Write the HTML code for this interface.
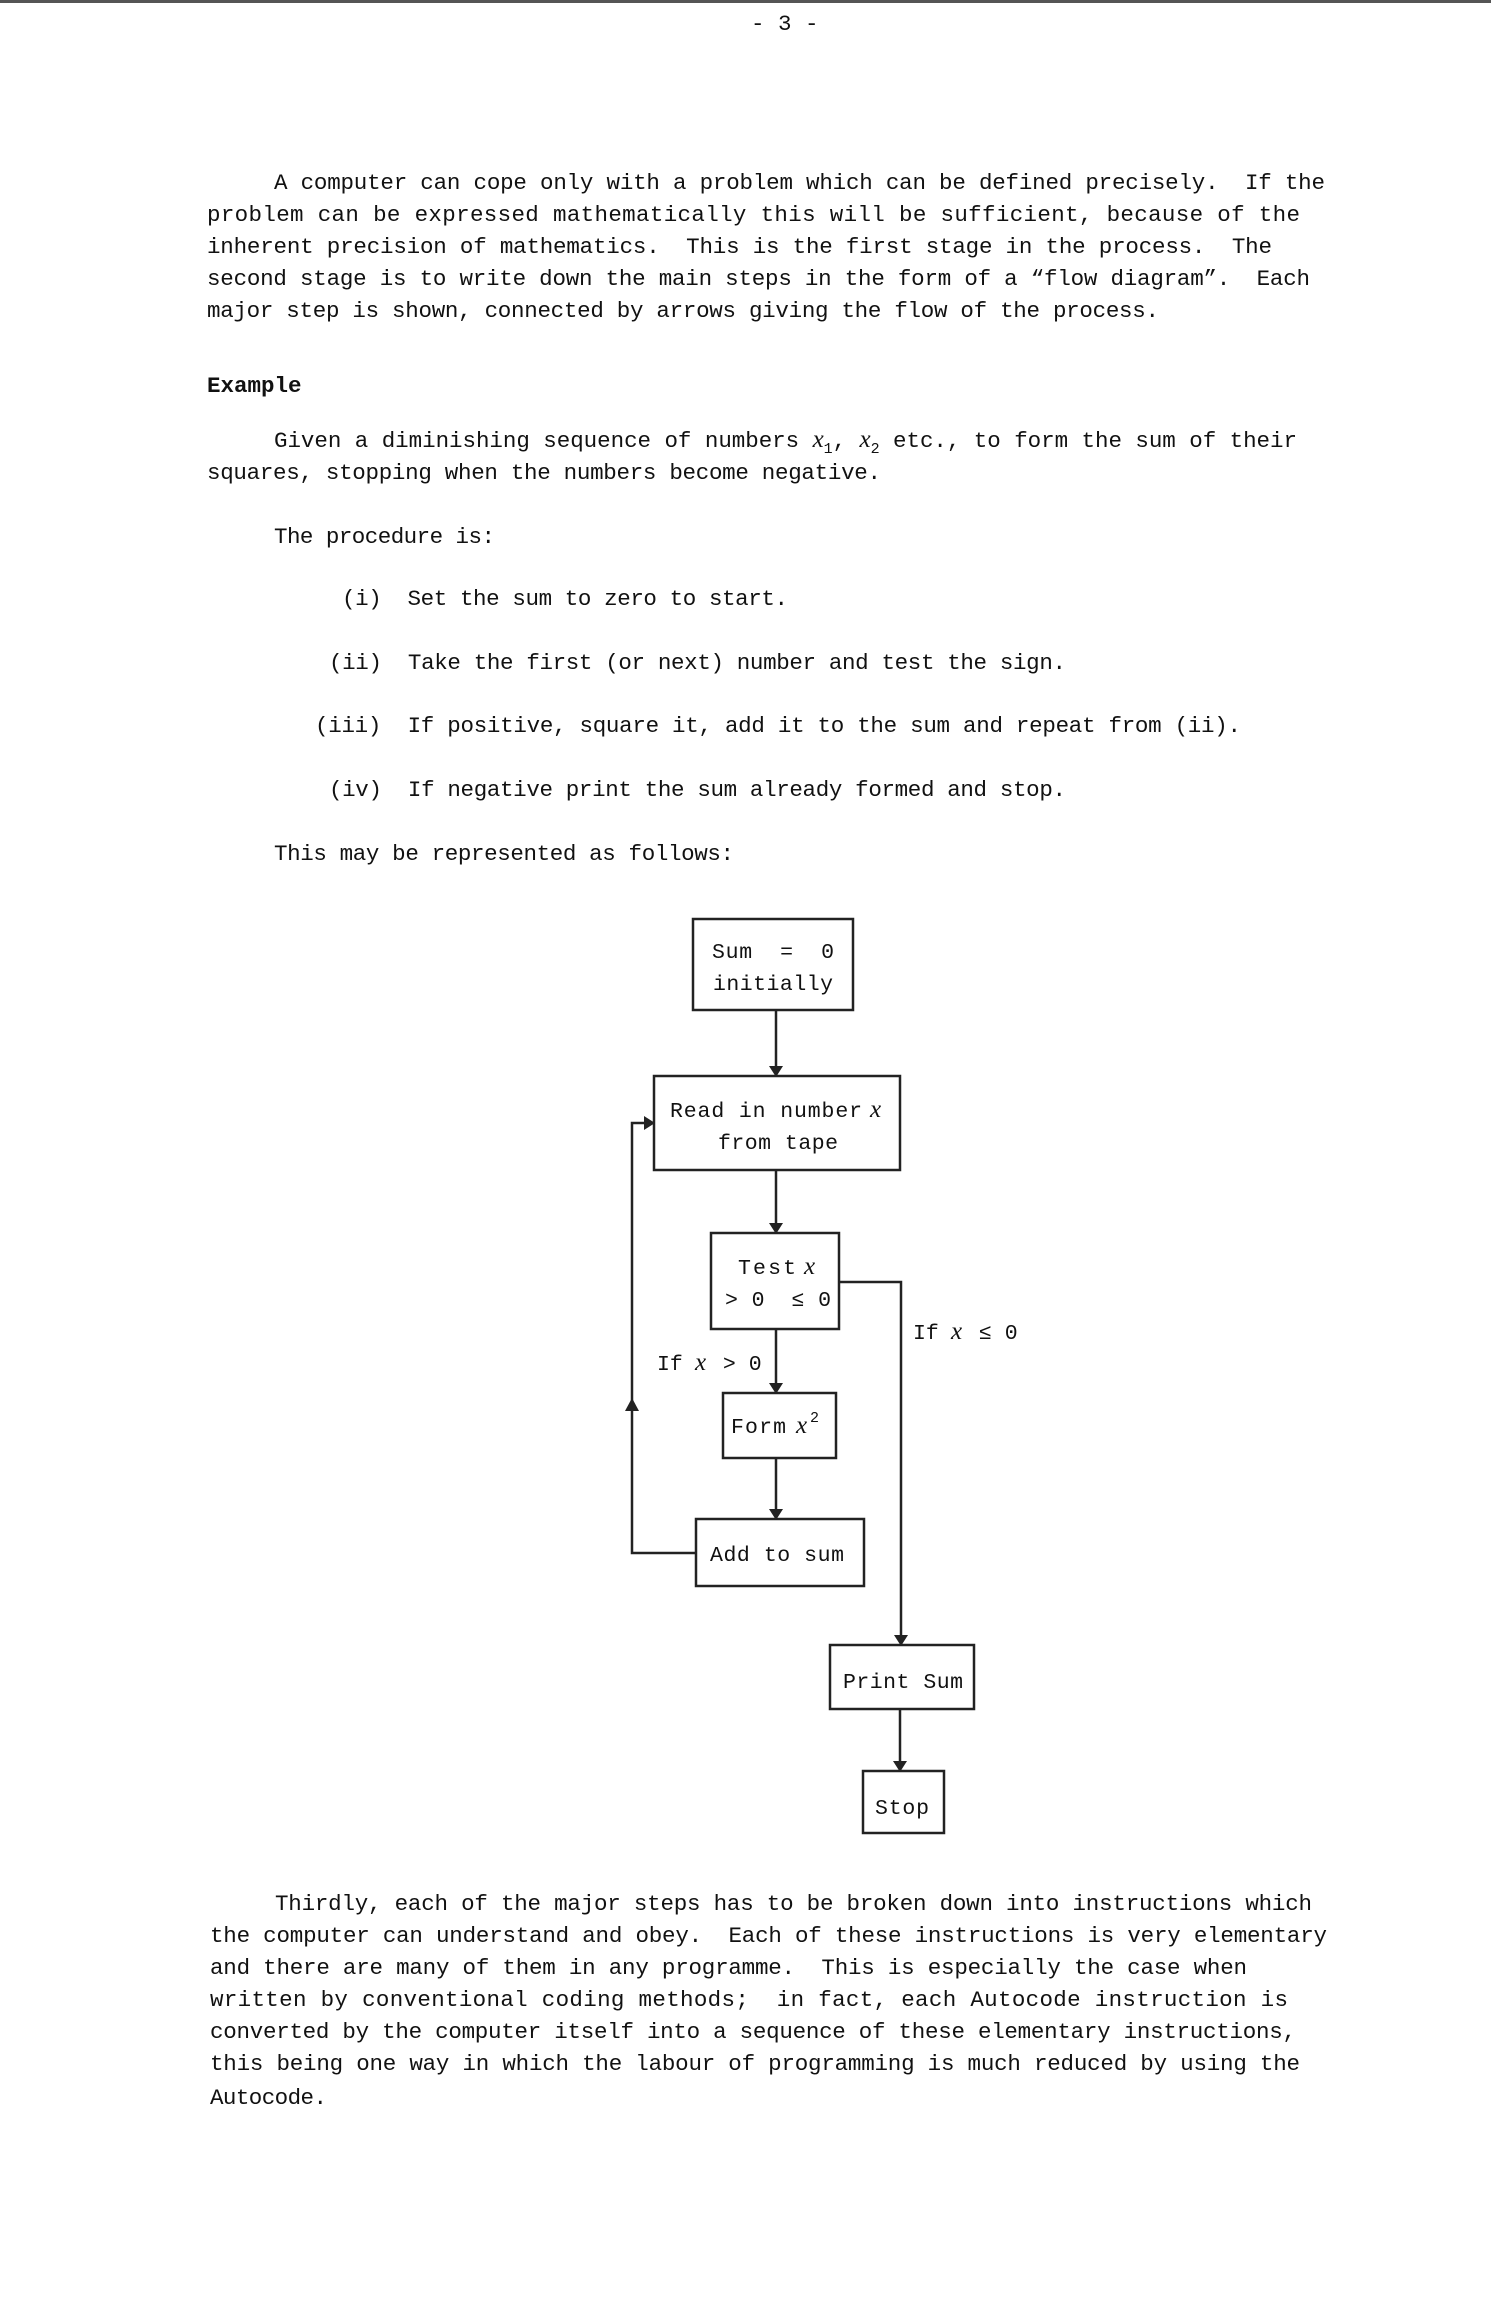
<!DOCTYPE html>
<html><head><meta charset="utf-8"><style>
html,body{margin:0;padding:0;background:#fff}
body{width:1491px;height:2321px;position:relative;overflow:hidden}
svg text{white-space:pre}
.b{font-family:"Liberation Mono",monospace;font-size:22.5px;fill:#111}
.t{font-family:"Liberation Mono",monospace;font-size:21.5px;fill:#111}
.m{font-family:"Liberation Serif",serif;font-style:italic;font-size:25px}
</style></head><body>
<svg style="position:absolute;left:0;top:0" width="1491" height="2321">
<rect x="0" y="0" width="1491" height="3" fill="#555"/>
<text class="b" x="751" y="30">- 3 -</text>

<text class="b" x="274" y="189" textLength="1051" lengthAdjust="spacing">A computer can cope only with a problem which can be defined precisely.  If the</text>
<text class="b" x="207" y="221" textLength="1093" lengthAdjust="spacing">problem can be expressed mathematically this will be sufficient, because of the</text>
<text class="b" x="207" y="253" textLength="1065" lengthAdjust="spacing">inherent precision of mathematics.  This is the first stage in the process.  The</text>
<text class="b" x="207" y="285" textLength="1103" lengthAdjust="spacing">second stage is to write down the main steps in the form of a “flow diagram”.  Each</text>
<text class="b" x="207" y="317" textLength="952" lengthAdjust="spacing">major step is shown, connected by arrows giving the flow of the process.</text>

<text class="b" x="207" y="392" style="font-weight:bold">Example</text>

<text class="b" x="274" y="447" textLength="1023" lengthAdjust="spacing">Given a diminishing sequence of numbers <tspan class="m">x</tspan><tspan dy="6" font-size="15">1</tspan><tspan dy="-6">, </tspan><tspan class="m">x</tspan><tspan dy="6" font-size="15">2</tspan><tspan dy="-6"> etc., to form the sum of their</tspan></text>
<text class="b" x="207" y="479" textLength="674" lengthAdjust="spacing">squares, stopping when the numbers become negative.</text>

<text class="b" x="274" y="543" textLength="221" lengthAdjust="spacing">The procedure is:</text>
<text class="b" x="342" y="605" textLength="446" lengthAdjust="spacing">(i)  Set the sum to zero to start.</text>
<text class="b" x="329" y="669" textLength="737" lengthAdjust="spacing">(ii)  Take the first (or next) number and test the sign.</text>
<text class="b" x="315" y="732" textLength="926" lengthAdjust="spacing">(iii)  If positive, square it, add it to the sum and repeat from (ii).</text>
<text class="b" x="329" y="796" textLength="737" lengthAdjust="spacing">(iv)  If negative print the sum already formed and stop.</text>
<text class="b" x="274" y="860" textLength="460" lengthAdjust="spacing">This may be represented as follows:</text>

<g fill="none" stroke="#222" stroke-width="2.5">
<rect x="693" y="919" width="160" height="91"/>
<rect x="654" y="1076" width="246" height="94"/>
<rect x="711" y="1233" width="128" height="96"/>
<rect x="723" y="1393" width="113" height="65"/>
<rect x="696" y="1519" width="168" height="67"/>
<rect x="830" y="1645" width="144" height="64"/>
<rect x="863" y="1771" width="81" height="62"/>
<path d="M776 1010V1070M776 1170V1227M776 1329V1387M776 1458V1513"/>
<path d="M839 1282H901V1639M900 1709V1765"/>
<path d="M696 1553H632V1123H646"/>
</g>
<g fill="#222">
<path d="M769 1066h14l-7 11z"/>
<path d="M769 1223h14l-7 11z"/>
<path d="M769 1383h14l-7 11z"/>
<path d="M769 1509h14l-7 11z"/>
<path d="M894 1635h14l-7 11z"/>
<path d="M893 1761h14l-7 11z"/>
<path d="M644 1116v14l11-7z"/>
<path d="M625 1411h14l-7-13z"/>
</g>
<text class="t" x="712" y="958" textLength="122" lengthAdjust="spacing">Sum  =  0</text>
<text class="t" x="713" y="990" textLength="120" lengthAdjust="spacing">initially</text>
<text class="t" x="670" y="1117" textLength="192" lengthAdjust="spacing">Read in number</text><text class="t m" x="870" y="1117">x</text>
<text class="t" x="718" y="1149" textLength="120" lengthAdjust="spacing">from tape</text>
<text class="t" x="738" y="1274" textLength="58" lengthAdjust="spacing">Test</text><text class="t m" x="804" y="1274">x</text>
<text class="t" x="725" y="1306" textLength="106" lengthAdjust="spacing">&gt; 0  ≤ 0</text>
<text class="t" x="731" y="1433" textLength="55" lengthAdjust="spacing">Form</text><text class="t m" x="796" y="1433">x</text><text class="t" x="810" y="1422" style="font-size:15px">2</text>
<text class="t" x="710" y="1561" textLength="134" lengthAdjust="spacing">Add to sum</text>
<text class="t" x="843" y="1688" textLength="120" lengthAdjust="spacing">Print Sum</text>
<text class="t" x="875" y="1814" textLength="54" lengthAdjust="spacing">Stop</text>
<text class="t" x="913" y="1339">If </text><text class="t m" x="951" y="1339">x</text><text class="t" x="966" y="1339"> ≤ 0</text>
<text class="t" x="657" y="1370">If </text><text class="t m" x="695" y="1370">x</text><text class="t" x="710" y="1370"> &gt; 0</text>

<text class="b" x="275" y="1910" textLength="1037" lengthAdjust="spacing">Thirdly, each of the major steps has to be broken down into instructions which</text>
<text class="b" x="210" y="1942" textLength="1117" lengthAdjust="spacing">the computer can understand and obey.  Each of these instructions is very elementary</text>
<text class="b" x="210" y="1974" textLength="1037" lengthAdjust="spacing">and there are many of them in any programme.  This is especially the case when</text>
<text class="b" x="210" y="2006" textLength="1078" lengthAdjust="spacing">written by conventional coding methods;  in fact, each Autocode instruction is</text>
<text class="b" x="210" y="2038" textLength="1086" lengthAdjust="spacing">converted by the computer itself into a sequence of these elementary instructions,</text>
<text class="b" x="210" y="2070" textLength="1090" lengthAdjust="spacing">this being one way in which the labour of programming is much reduced by using the</text>
<text class="b" x="210" y="2104" textLength="117" lengthAdjust="spacing">Autocode.</text>
</svg>
</body></html>
